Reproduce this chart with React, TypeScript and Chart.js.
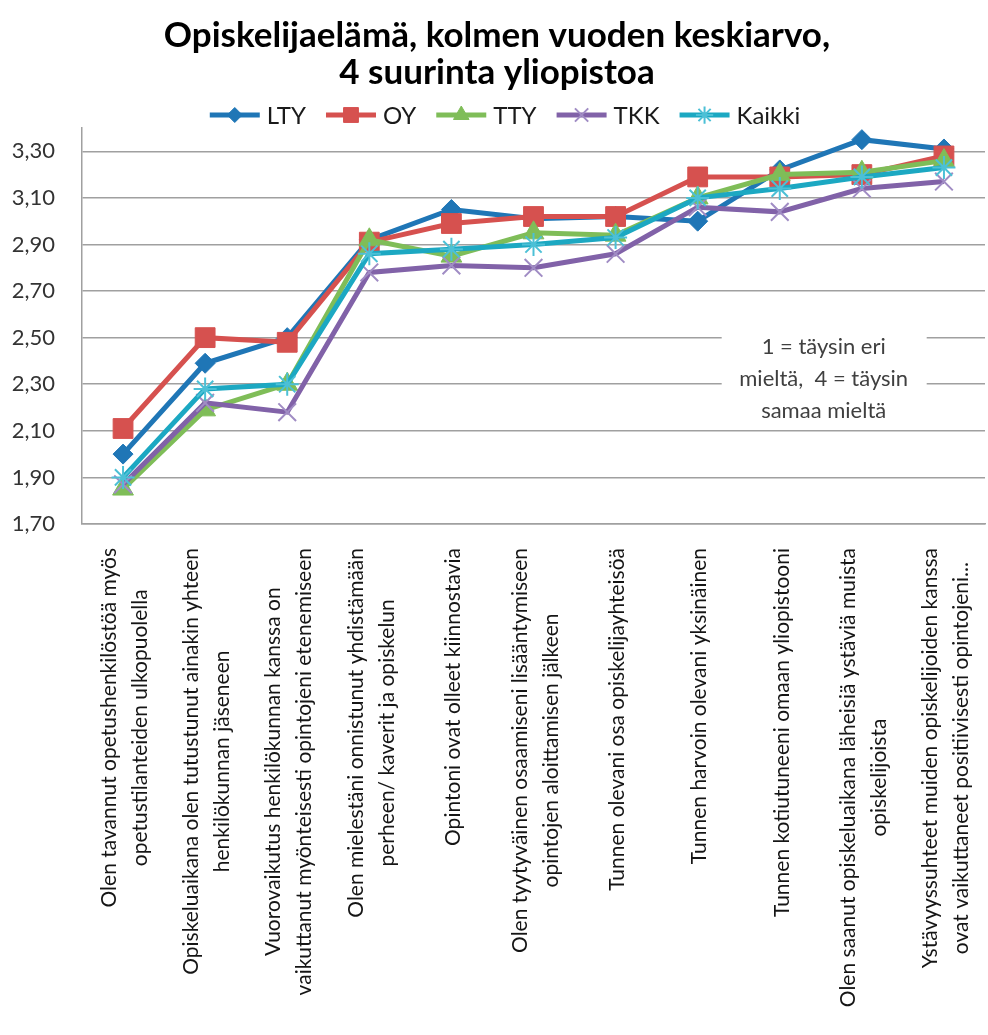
import React, { useEffect, useRef } from 'react';
import { Chart, registerables } from 'chart.js';

Chart.register(...registerables);

// ---------------- data ----------------
const titleLines: string[] = ['Opiskelijaelämä, kolmen vuoden keskiarvo,', '4 suurinta yliopistoa'];

const categories: string[][] = [
  ['Olen tavannut opetushenkilöstöä myös', 'opetustilanteiden ulkopuolella'],
  ['Opiskeluaikana olen tutustunut ainakin yhteen', 'henkilökunnan jäseneen'],
  ['Vuorovaikutus henkilökunnan kanssa on', 'vaikuttanut myönteisesti opintojeni etenemiseen'],
  ['Olen mielestäni onnistunut yhdistämään', 'perheen/ kaverit ja opiskelun'],
  ['Opintoni ovat olleet kiinnostavia'],
  ['Olen tyytyväinen osaamiseni lisääntymiseen', 'opintojen aloittamisen jälkeen'],
  ['Tunnen olevani osa opiskelijayhteisöä'],
  ['Tunnen harvoin olevani yksinäinen'],
  ['Tunnen kotiutuneeni omaan yliopistooni'],
  ['Olen saanut opiskeluaikana läheisiä ystäviä muista', 'opiskelijoista'],
  ['Ystävyyssuhteet muiden opiskelijoiden kanssa', 'ovat vaikuttaneet positiivisesti opintojeni...'],
];

const seriesNames: string[] = ['LTY', 'OY', 'TTY', 'TKK', 'Kaikki'];
const ltyValues: number[] = [2.0, 2.39, 2.5, 2.92, 3.05, 3.01, 3.02, 3.0, 3.22, 3.35, 3.31];
const oyValues: number[] = [2.11, 2.5, 2.48, 2.91, 2.99, 3.02, 3.02, 3.19, 3.19, 3.2, 3.28];
const ttyValues: number[] = [1.85, 2.19, 2.3, 2.92, 2.85, 2.95, 2.94, 3.1, 3.2, 3.21, 3.26];
const tkkValues: number[] = [1.87, 2.22, 2.18, 2.78, 2.81, 2.8, 2.86, 3.06, 3.04, 3.14, 3.17];
const kaikkiValues: number[] = [1.9, 2.28, 2.3, 2.86, 2.88, 2.9, 2.93, 3.1, 3.14, 3.19, 3.23];

const yTickValues: number[] = [1.7, 1.9, 2.1, 2.3, 2.5, 2.7, 2.9, 3.1, 3.3];
const yMin = 1.7;
const yMax = 3.4;

const noteLines: string[] = ['1 = täysin eri', 'mieltä,  4 = täysin', 'samaa mieltä'];

// ---------------- styling ----------------
const FONT = 'Lato, "Open Sans", "DejaVu Sans", sans-serif';
const colors = ['#1f76b6', '#d6514f', '#7fbd58', '#8162a8', '#1ca8c2'];
const markerBorder = ['#1f76b6', '#d6514f', '#7fbd58', '#a08cc4', '#4cc0d6'];
const pointStyles = ['rectRot', 'rect', 'triangle', 'crossRot', 'star'];
const pointRadii = [10, 14, 12, 12.5, 11.5];
const pointBorderWidths = [1, 1, 1, 2, 2];

const GRID = '#a0a0a0';
const X_FONT = 21;
const X_LINE = 31;
const X_GAP = 24;
const X_SHIFT = 2;

function drawMarker(ctx: CanvasRenderingContext2D, style: string, x: number, y: number, r: number, fill: string, stroke: string, lw: number) {
  ctx.save();
  ctx.fillStyle = fill;
  ctx.strokeStyle = stroke;
  ctx.lineWidth = lw;
  ctx.beginPath();
  if (style === 'rectRot') {
    ctx.moveTo(x - r, y); ctx.lineTo(x, y - r); ctx.lineTo(x + r, y); ctx.lineTo(x, y + r); ctx.closePath();
    ctx.fill(); ctx.stroke();
  } else if (style === 'rect') {
    const s = r * Math.SQRT1_2;
    ctx.rect(x - s, y - s, 2 * s, 2 * s);
    ctx.fill(); ctx.stroke();
  } else if (style === 'triangle') {
    for (let k = 0; k < 3; k++) {
      const a = (k * 2 * Math.PI) / 3;
      const px = x + Math.sin(a) * r;
      const py = y - Math.cos(a) * r;
      if (k === 0) ctx.moveTo(px, py); else ctx.lineTo(px, py);
    }
    ctx.closePath(); ctx.fill(); ctx.stroke();
  } else {
    const s = r * Math.SQRT1_2;
    ctx.moveTo(x - s, y - s); ctx.lineTo(x + s, y + s);
    ctx.moveTo(x + s, y - s); ctx.lineTo(x - s, y + s);
    if (style === 'star') {
      ctx.moveTo(x, y - r); ctx.lineTo(x, y + r);
      ctx.moveTo(x - r, y); ctx.lineTo(x + r, y);
    }
    ctx.stroke();
  }
  ctx.restore();
}

const legendPlugin = {
  id: 'lineLegend',
  afterDraw(chart: any) {
    const ctx: CanvasRenderingContext2D = chart.ctx;
    const area = chart.chartArea;
    const y = area.top - 13;
    const lineLen = 50;
    const textGap = 7;
    const itemGap = 20;
    ctx.save();
    ctx.font = `24px ${FONT}`;
    ctx.textBaseline = 'middle';
    ctx.textAlign = 'left';
    const widths = chart.data.datasets.map((d: any) => lineLen + textGap + ctx.measureText(d.label).width);
    const total = widths.reduce((a: number, b: number) => a + b, 0) + itemGap * (widths.length - 1);
    let x = chart.width / 2 + 8 - total / 2;
    chart.data.datasets.forEach((d: any, i: number) => {
      ctx.strokeStyle = d.borderColor;
      ctx.lineWidth = 5;
      ctx.beginPath();
      ctx.moveTo(x, y);
      ctx.lineTo(x + lineLen, y);
      ctx.stroke();
      drawMarker(ctx, d.pointStyle, x + lineLen / 2, y, d.pointRadius * 0.75, d.pointBackgroundColor, d.pointBorderColor, d.pointBorderWidth);
      ctx.fillStyle = '#1a1a1a';
      ctx.fillText(d.label, x + lineLen + textGap, y + 1);
      x += widths[i] + itemGap;
    });
    ctx.restore();
  },
};

const xLabelPlugin = {
  id: 'xLabels',
  afterDraw(chart: any) {
    const ctx: CanvasRenderingContext2D = chart.ctx;
    const xs = chart.scales.x;
    const area = chart.chartArea;
    ctx.save();
    ctx.font = `${X_FONT}px ${FONT}`;
    ctx.fillStyle = '#151515';
    ctx.textAlign = 'center';
    ctx.textBaseline = 'middle';
    categories.forEach((lines, i) => {
      const x = xs.getPixelForValue(i);
      const maxW = Math.max(...lines.map((l) => ctx.measureText(l).width));
      const yc = area.bottom + X_GAP + maxW / 2;
      const n = lines.length;
      lines.forEach((line, j) => {
        const dx = (j - (n - 1) / 2) * X_LINE;
        ctx.save();
        ctx.translate(x + dx + X_SHIFT, yc);
        ctx.rotate(-Math.PI / 2);
        ctx.fillText(line, 0, 0);
        ctx.restore();
      });
    });
    ctx.restore();
  },
};

const notePlugin = {
  id: 'note',
  beforeDatasetsDraw(chart: any) {
    const ctx: CanvasRenderingContext2D = chart.ctx;
    const xs = chart.scales.x;
    const ys = chart.scales.y;
    const cx = xs.getPixelForValue(8.535);
    const cy = ys.getPixelForValue(2.33);
    ctx.save();
    ctx.fillStyle = '#ffffff';
    ctx.fillRect(cx - 102, cy - 54, 205, 106);
    ctx.font = `22px ${FONT}`;
    ctx.fillStyle = '#404040';
    ctx.textAlign = 'center';
    ctx.textBaseline = 'middle';
    noteLines.forEach((l, i) => ctx.fillText(l, cx, cy + (i - 1) * 32 + 2));
    ctx.restore();
  },
};

export default function App() {
  const ref = useRef<HTMLCanvasElement | null>(null);

  useEffect(() => {
    if (!ref.current) return;
    const values = [ltyValues, oyValues, ttyValues, tkkValues, kaikkiValues];
    const chart = new Chart(ref.current, {
      type: 'line',
      data: {
        labels: categories.map((c) => c.join(' ')),
        datasets: seriesNames.map((name, i) => ({
          label: name,
          data: values[i],
          borderColor: colors[i],
          backgroundColor: colors[i],
          borderWidth: 5,
          pointStyle: pointStyles[i] as any,
          pointRadius: pointRadii[i],
          pointBackgroundColor: colors[i],
          pointBorderColor: markerBorder[i],
          pointBorderWidth: pointBorderWidths[i],
          tension: 0,
          fill: false,
          order: seriesNames.length - i,
        })),
      },
      options: {
        responsive: false,
        animation: false,
        devicePixelRatio: 1,
        layout: { padding: 0 },
        plugins: {
          legend: { display: false },
          tooltip: { enabled: false },
          title: {
            display: true,
            text: titleLines,
            color: '#000000',
            font: { family: FONT, size: 35, weight: 'bold', lineHeight: 37 / 35 },
            padding: { top: 17, bottom: 37 },
          },
        },
        scales: {
          x: {
            type: 'category',
            offset: true,
            grid: { display: false, drawTicks: false },
            border: { display: true, color: GRID, width: 1.5 },
            ticks: { display: false },
            afterFit: (s: any) => {
              s.height = 1035 - 524;
            },
          },
          y: {
            min: yMin,
            max: yMax,
            afterBuildTicks: (s: any) => {
              s.ticks = yTickValues.map((v) => ({ value: v }));
            },
            afterFit: (s: any) => {
              s.width = 88;
            },
            grid: { color: GRID, lineWidth: 1.5, drawTicks: false },
            border: { display: true, color: GRID, width: 1.5 },
            ticks: {
              padding: 27,
              color: '#333333',
              font: { family: FONT, size: 22 },
              callback: (v: any) => Number(v).toFixed(2).replace('.', ','),
            },
          },
        },
      },
      plugins: [legendPlugin, xLabelPlugin, notePlugin],
    });
    return () => chart.destroy();
  }, []);

  return (
    <div style={{ position: 'fixed', left: 0, top: 0, width: 988, height: 1035, overflow: 'hidden', background: '#ffffff' }}>
      <canvas ref={ref} width={1006} height={1035} style={{ position: 'absolute', left: -6, top: 0 }} />
    </div>
  );
}
